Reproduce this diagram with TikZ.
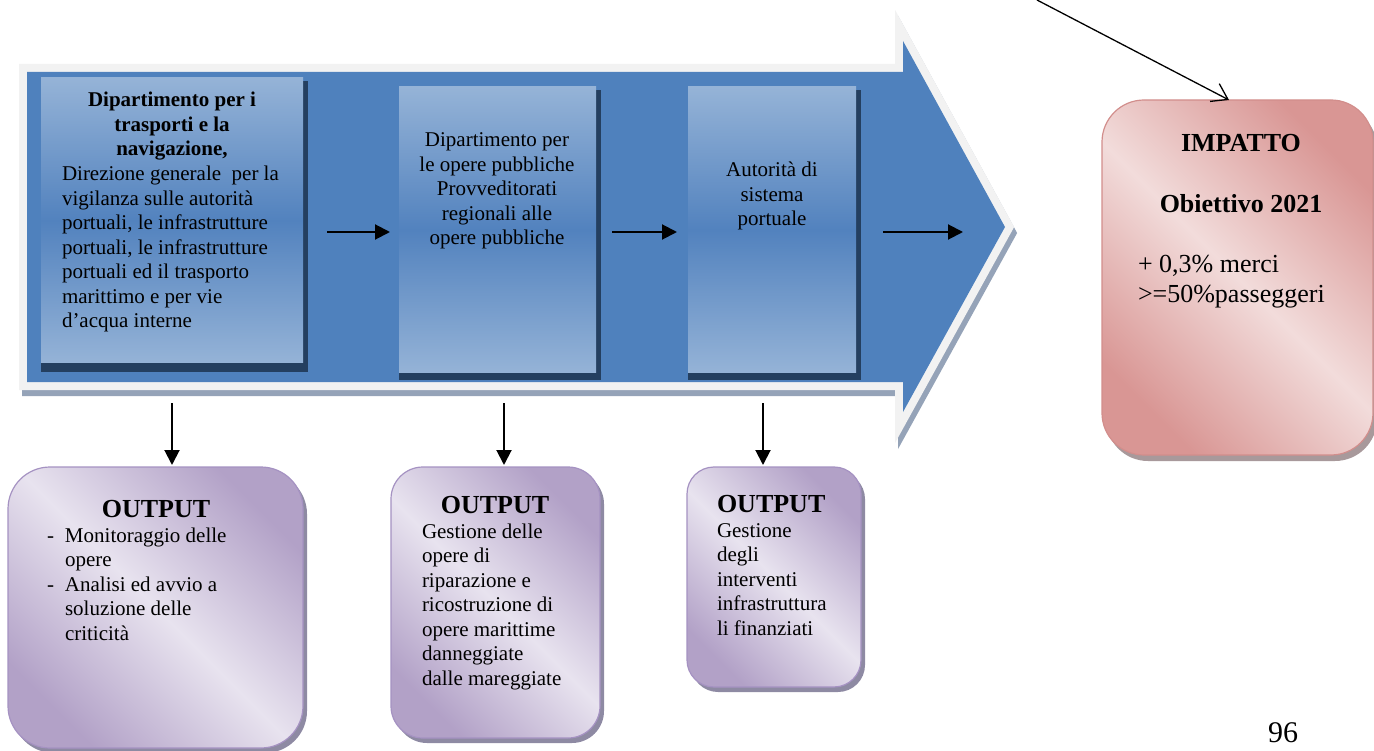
\documentclass[tikz,border=0pt]{standalone}
\usepackage{fontspec}
\setmainfont{Liberation Serif}
\usetikzlibrary{calc,shadows,arrows.meta}

\pgfdeclarelayer{band}
\pgfdeclarelayer{shade}
\pgfsetlayers{band,shade,main}

\definecolor{bandblue}{HTML}{4F81BD}
\definecolor{bandedge}{HTML}{F2F2F2}
\definecolor{bandshade}{HTML}{95A3B8}
\definecolor{boxlight}{HTML}{95B3D7}
\definecolor{boxmid}{HTML}{5282BE}
\definecolor{boxshade}{HTML}{243F60}
\definecolor{outdark}{HTML}{B2A1C7}
\definecolor{outlight}{HTML}{E8E3EF}
\definecolor{outrim}{HTML}{A592C2}
\definecolor{outshade}{HTML}{8E8AA3}
\definecolor{impdark}{HTML}{D99694}
\definecolor{implight}{HTML}{F2DCDB}
\definecolor{imprim}{HTML}{D28E8C}
\definecolor{impshade}{HTML}{A8999B}

\tikzset{
  stagebox/.style={rectangle, inner sep=0pt, outer sep=0pt, anchor=north west,
    top color=boxlight, bottom color=boxlight, middle color=boxmid},
  outbox/.style={rectangle, rounded corners=#1, inner sep=0pt, outer sep=0pt,
    anchor=north west, draw=outrim, line width=1.2pt,
    top color=outdark, bottom color=outdark, middle color=outlight, shading angle=-45,
    drop shadow={shadow xshift=4pt, shadow yshift=-5pt, fill=outshade, opacity=1}},
  impbox/.style={rectangle, rounded corners=#1, inner sep=0pt, outer sep=0pt,
    anchor=north west, draw=imprim, line width=1.2pt,
    top color=impdark, bottom color=impdark, middle color=implight, shading angle=-45,
    drop shadow={shadow xshift=4pt, shadow yshift=-6pt, fill=impshade, opacity=1}},
  txt/.style={inner sep=0pt, outer sep=0pt, font=\fontsize{21pt}{24.5pt}\selectfont},
  head/.style={inner sep=0pt, outer sep=0pt, font=\fontsize{26pt}{30pt}\selectfont\bfseries},
  flow/.style={line width=2pt, -{Triangle[length=15pt,width=15pt]}},
  barb/.style={line width=1.3pt, -{Straight Barb[length=15pt,width=20pt,line width=1.3pt]}}
}

\begin{document}
\begin{tikzpicture}[x=1pt,y=-1pt]
\useasboundingbox (0,0) rectangle (1374,751);

% chevron band carrying the three stages
\begin{pgfonlayer}{band}
  \begin{scope}[shift={(3,6)}]
    \draw[bandshade, fill=bandshade, line width=16pt, line join=miter]
      (27,72) -- (903,72) -- (903,41) -- (1005,227) -- (903,412) -- (903,382) -- (27,382) -- cycle;
  \end{scope}
  \draw[bandedge, line width=16pt, line join=miter]
    (27,72) -- (903,72) -- (903,41) -- (1005,227) -- (903,412) -- (903,382) -- (27,382) -- cycle;
  \fill[bandblue]
    (27,72) -- (903,72) -- (903,41) -- (1005,227) -- (903,412) -- (903,382) -- (27,382) -- cycle;
\end{pgfonlayer}

% stage boxes
\node[stagebox, minimum width=262pt, minimum height=285pt] (s1) at (41,78) {};
\node[stagebox, minimum width=197pt, minimum height=286pt] (s2) at (399,87) {};
\node[stagebox, minimum width=168pt, minimum height=286pt] (s3) at (688,87) {};

\begin{pgfonlayer}{shade}
  \fill[boxshade] ($(s1.north west)+(0,3)$) rectangle ($(s1.south east)+(5,9)$);
  \fill[boxshade] ($(s2.north west)+(0,3)$) rectangle ($(s2.south east)+(5,7)$);
  \fill[boxshade] ($(s3.north west)+(0,3)$) rectangle ($(s3.south east)+(5,7)$);
\end{pgfonlayer}

% multi-line texts are placed by the baseline of their last line
\node[txt, font=\fontsize{21pt}{24.5pt}\selectfont\bfseries, align=center, anchor=base]
  (s1title) at (172,156) {Dipartimento per i\\trasporti e la\\navigazione,};
\node[txt, align=left, anchor=base west] (s1text) at (62,328)
  {Direzione generale\ \ per la\\vigilanza sulle autorità\\portuali, le infrastrutture\\portuali, le infrastrutture\\portuali ed il trasporto\\marittimo e per vie\\d’acqua interne};
\node[txt, align=center, anchor=base] (s2text) at (497,245)
  {Dipartimento per\\le opere pubbliche\\Provveditorati\\regionali alle\\opere pubbliche};
\node[txt, align=center, anchor=base] (s3text) at (772,226)
  {Autorità di\\sistema\\portuale};

% output boxes
\node[outbox=42pt, minimum width=295pt, minimum height=281pt] (oA) at (8,467) {};
\node[outbox=32pt, minimum width=209pt, minimum height=271pt] (oB) at (391,467) {};
\node[outbox=27pt, minimum width=174pt, minimum height=220pt] (oC) at (687,467) {};

\node[head, anchor=base] (oAhead) at (156,517) {OUTPUT};
\node[txt, align=left, anchor=base west] (oAtext) at (47,640)
  {\makebox[18pt][l]{-}Monitoraggio delle\\\hspace*{18pt}opere\\\makebox[18pt][l]{-}Analisi ed avvio a\\\hspace*{18pt}soluzione delle\\\hspace*{18pt}criticità};
\node[head, anchor=base] (oBhead) at (495,513) {OUTPUT};
\node[txt, align=left, anchor=base west] (oBtext) at (422,685)
  {Gestione delle\\opere di\\riparazione e\\ricostruzione di\\opere marittime\\danneggiate\\dalle mareggiate};
\node[head, anchor=base west] (oChead) at (717,512) {OUTPUT};
\node[txt, align=left, anchor=base west] (oCtext) at (717,635)
  {Gestione\\degli\\interventi\\infrastruttura\\li finanziati};

% impact box
\node[impbox=42pt, minimum width=271pt, minimum height=355pt] (imp) at (1102,100) {};
\node[head, anchor=base] (imphead) at (1241,152) {IMPATTO};
\node[head, anchor=base] (impgoal) at (1241,213) {Obiettivo 2021};
\node[txt, font=\fontsize{26pt}{30pt}\selectfont, align=left, anchor=base west] (imptext) at (1138,303)
  {+ 0,3\% merci\\>=50\%passeggeri};

% connectors
\coordinate (row) at (0,232);
\draw[flow, shorten <=24pt, shorten >=9pt] (s1.east |- row) -- (s2.west |- row);
\draw[flow, shorten <=16pt, shorten >=11pt] (s2.east |- row) -- (s3.west |- row);
\draw[flow, shorten <=27pt, shorten >=139pt] (s3.east |- row) -- (imp.west |- row);

\coordinate (d1) at (s1.south);
\coordinate (d2) at ([xshift=6.5pt]s2.south);
\coordinate (d3) at ([xshift=-9pt]s3.south);
\draw[flow, shorten <=40pt, shorten >=2pt] (d1) -- (d1 |- oA.north);
\draw[flow, shorten <=30pt, shorten >=2pt] (d2) -- (d2 |- oB.north);
\draw[flow, shorten <=30pt, shorten >=2pt] (d3) -- (d3 |- oC.north);

\coordinate (src) at (1037,0);
\draw[barb] (src) -- ([xshift=-8.5pt]imp.north);

% page number
\node[txt, font=\fontsize{30pt}{34pt}\selectfont, anchor=base west] (page) at (1268,742) {96};
\end{tikzpicture}
\end{document}
